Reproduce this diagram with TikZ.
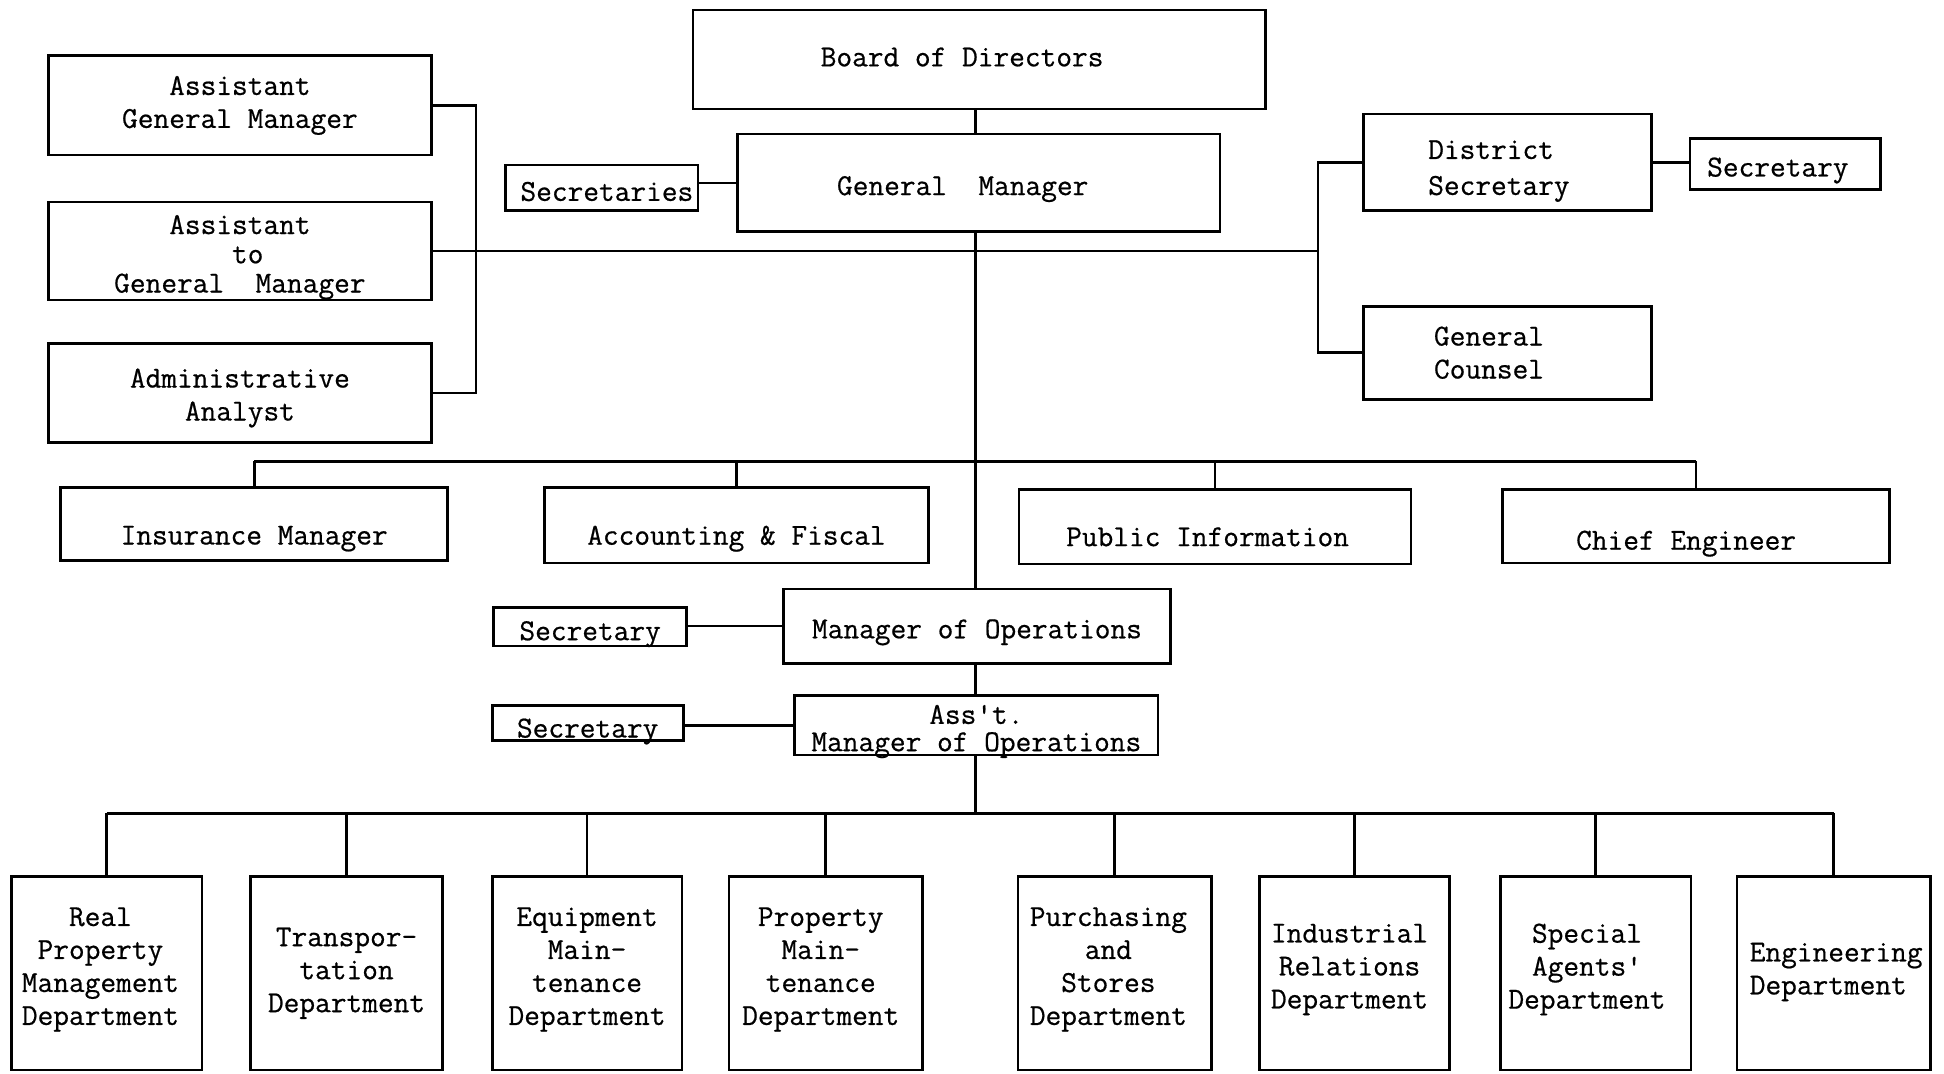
\documentclass[tikz,border=0pt]{standalone}
\usepackage{fontspec}
\newfontfamily\typer{Latin Modern Mono}[FakeBold=0.6]
% \orgbox[text style]{name}{x1}{y1}{x2}{y2}{text drop}{text}
% draws a box from its corners and sets its text, lowered by the drop
\newcommand{\orgbox}[8][]{%
  \node[frame,minimum width={(#5-#3)*0.5pt},minimum height={(#6-#4)*0.5pt}]
    (#2) at ({(#3+#5)/2},{(#4+#6)/2}) {};
  \node[words,#1,yshift={-(#7)*0.5pt}] (#2-t) at (#2.center) {#8};}
\begin{document}
\begin{tikzpicture}[x=0.5pt,y=-0.5pt,
  frame/.style={draw, line width=1.1pt, inner sep=0pt},
  words/.style={inner sep=0pt, align=center,
    font=\fontsize{12.3}{13.3}\selectfont\typer},
  skip/.style={font=\fontsize{12.3}{#1}\selectfont\typer},
  link/.style={line width=1.1pt}]
\useasboundingbox (0,0) rectangle (1568,866);

% top of the organisation
\orgbox[xshift=-7pt]{board}{559}{8}{1021}{88}{-2}{Board of Directors}
\orgbox[xshift=-6.5pt]{gm}{595}{108}{984}{187}{5}{General\ \ Manager}
\orgbox[xshift=2pt]{secs}{408}{133}{563}{170}{3}{Secretaries}

% staff on the left
\orgbox{agm}{39}{45}{348}{125}{0}{Assistant\\General Manager}
\orgbox[skip=11.8pt]{atgm}{39}{163}{348}{242}{5}{Assistant\\\ to\\General\ \ Manager}
\orgbox{aa}{39}{277}{348}{357}{4}{Administrative\\Analyst}

% staff on the right
\orgbox[align=left,skip=14.5pt,xshift=-3.5pt]{ds}{1100}{92}{1332}{170}{7}{District\\Secretary}
\orgbox[xshift=-3pt]{dsec}{1363}{112}{1517}{153}{5}{Secretary}
\orgbox[align=left,xshift=-7.5pt]{gc}{1100}{247}{1332}{322}{0}{General\\Counsel}

% staff offices
\orgbox{ins}{49}{393}{361}{452}{12}{Insurance Manager}
\orgbox{acct}{439}{393}{749}{454}{11}{Accounting \& Fiscal}
\orgbox[xshift=-3pt]{pub}{822}{395}{1138}{455}{8}{Public Information}
\orgbox[xshift=-4pt]{chief}{1212}{395}{1524}{454}{14}{Chief Engineer}

% operations
\orgbox{mo}{632}{475}{944}{535}{5}{Manager of Operations}
\orgbox{sec1}{398}{490}{554}{521}{6}{Secretary}
\orgbox[skip=11pt]{amo}{641}{561}{934}{609}{5}{Ass't.\\Manager of Operations}
\orgbox{sec2}{397}{569}{551}{597}{7}{Secretary}

% departments
\orgbox[xshift=-2.5pt]{d1}{9}{707}{163}{863}{-3}{Real\\Property\\Management\\Department}
\orgbox{d2}{202}{707}{357}{863}{0}{Transpor-\\tation\\Department}
\orgbox{d3}{397}{707}{550}{863}{-3}{Equipment\\Main-\\tenance\\Department}
\orgbox[xshift=-2pt]{d4}{588}{707}{744}{863}{-3}{Property\\Main-\\tenance\\Department}
\orgbox[xshift=-2.5pt]{d5}{821}{707}{977}{863}{-3}{Purchasing\\and\\Stores\\Department}
\orgbox[xshift=-2pt]{d6}{1016}{707}{1169}{863}{-3}{Industrial\\Relations\\Department}
\orgbox[xshift=-3.5pt]{d7}{1210}{707}{1364}{863}{-3}{Special\\Agents'\\Department}
\orgbox[align=left,xshift=1pt]{d8}{1401}{707}{1557}{863}{-1}{Engineering\\Department}

% guide lines for the connectors
\coordinate (lbx) at (384,0);
\coordinate (rbx) at (1063,0);
\coordinate (trunk) at (787,0);
\coordinate (staffbus) at (0,372);
\coordinate (deptbus) at (0,656);

% connectors
\draw[link] (board.south -| trunk) -- (gm.north -| trunk);
\draw[link] (gm.south -| trunk) -- (mo.north -| trunk);
\draw[link] (secs.east |- gm.west) -- (gm.west);
\draw[link] (agm.east) -- (agm.east -| lbx) -- (aa.east -| lbx) -- (aa.east);
\draw[link] (atgm.east) -- (atgm.east -| rbx);
\draw[link] (ds.west) -- (ds.west -| rbx) -- (gc.west -| rbx) -- (gc.west);
\draw[link] (ds.east) -- (ds.east -| dsec.west);
\draw[link] (ins.north |- staffbus) -- (chief.north |- staffbus);
\foreach \n in {ins,acct,pub,chief}
  \draw[link] (\n.north) -- (\n.north |- staffbus);
\draw[link] (sec1.east |- mo.west) -- (mo.west);
\draw[link] (mo.south -| trunk) -- (amo.north -| trunk);
\draw[link] (sec2.east |- amo.west) -- (amo.west);
\draw[link] (amo.south -| trunk) -- (trunk |- deptbus);
\draw[link] (d1.north |- deptbus) -- (d8.north |- deptbus);
\foreach \n in {d1,d2,d3,d4,d5,d6,d7,d8}
  \draw[link] (\n.north) -- (\n.north |- deptbus);
\end{tikzpicture}
\end{document}
